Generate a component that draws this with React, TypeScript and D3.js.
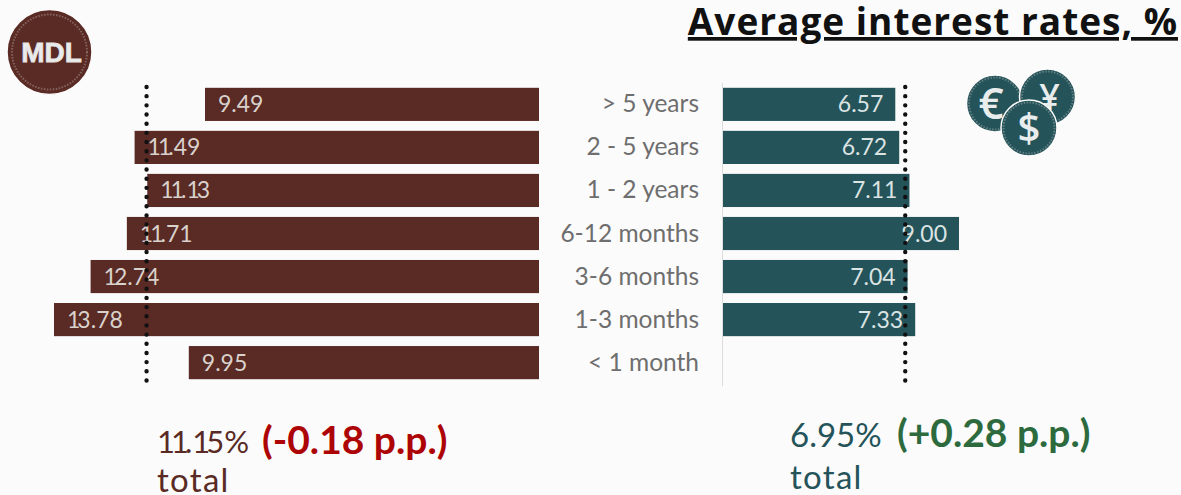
import { type FC, useEffect, useRef } from 'react';
import * as d3 from 'd3';

const categories = ['> 5 years', '2 - 5 years', '1 - 2 years', '6-12 months', '3-6 months', '1-3 months', '< 1 month'];
const mdlValues = [9.49, 11.49, 11.13, 11.71, 12.74, 13.78, 9.95];
const fxValues: (number | null)[] = [6.57, 6.72, 7.11, 9.0, 7.04, 7.33, null];
const mdlTotal = 11.15;
const fxTotal = 6.95;

const width = 1181;
const height = 495;
const bodyFont = 'Lato, "Noto Sans", sans-serif';
const brown = '#5a2a24';
const teal = '#24535a';

// the original face has a narrow "1", pull the following glyph back
const tightOnes = (s: string, k: number) =>
  s
    .split('')
    .map((_, i) => (i > 0 && s[i - 1] === '1' ? -k : 0))
    .join(' ');

const App: FC = () => {
  const ref = useRef<SVGSVGElement>(null);

  useEffect(() => {
    if (!ref.current) return;
    const svg = d3.select(ref.current);
    svg.selectAll('*').remove();
    svg.append('rect').attr('width', width).attr('height', height).attr('fill', '#fbfbfb');

    const y = d3.scaleBand<string>().domain(categories).range([83.5, 383.5]).paddingInner(0.23).paddingOuter(0.1);
    const xLeft = d3.scaleLinear().domain([0, 13.78]).range([539, 54]);
    const xRight = d3.scaleLinear().domain([0, 9]).range([723, 959]);
    const rows = categories.map((c, i) => ({ c, left: mdlValues[i], right: fxValues[i] }));

    // left bars
    const left = svg.append('g');
    left
      .selectAll('rect')
      .data(rows)
      .join('rect')
      .attr('x', (d) => xLeft(d.left))
      .attr('y', (d) => y(d.c)!)
      .attr('width', (d) => xLeft(0) - xLeft(d.left))
      .attr('height', y.bandwidth())
      .attr('fill', brown);

    // right bars
    const rightRows = rows.filter((d) => d.right !== null);
    const right = svg.append('g');
    right
      .selectAll('rect')
      .data(rightRows)
      .join('rect')
      .attr('x', xRight(0))
      .attr('y', (d) => y(d.c)!)
      .attr('width', (d) => xRight(d.right!) - xRight(0))
      .attr('height', y.bandwidth())
      .attr('fill', teal);

    svg
      .append('line')
      .attr('x1', xRight(0) - 0.5)
      .attr('x2', xRight(0) - 0.5)
      .attr('y1', 83)
      .attr('y2', 386)
      .attr('stroke', '#dcdcdc');

    // dotted average lines
    [xLeft(mdlTotal), xRight(fxTotal)].forEach((x) => {
      svg
        .append('line')
        .attr('x1', x)
        .attr('x2', x)
        .attr('y1', 87)
        .attr('y2', 384)
        .attr('stroke', '#111')
        .attr('stroke-width', 4.4)
        .attr('stroke-linecap', 'round')
        .attr('stroke-dasharray', '0 9.17');
    });

    // value labels
    left
      .selectAll('text')
      .data(rows)
      .join('text')
      .attr('x', (d) => xLeft(d.left) + 13)
      .attr('dx', (d) => tightOnes(d.left.toFixed(2), 3))
      .attr('y', (d) => y(d.c)! + y.bandwidth() / 2 + 8)
      .attr('font-family', bodyFont)
      .attr('font-size', 23)
      .attr('fill', '#d9d2cc')
      .text((d) => d.left.toFixed(2));
    right
      .selectAll('text')
      .data(rightRows)
      .join('text')
      .attr('x', (d) => xRight(d.right!) - 12)
      .attr('y', (d) => y(d.c)! + y.bandwidth() / 2 + 8)
      .attr('text-anchor', 'end')
      .attr('font-family', bodyFont)
      .attr('font-size', 23)
      .attr('fill', '#dbe3e3')
      .text((d) => d.right!.toFixed(2));

    // category labels
    svg
      .append('g')
      .selectAll('text')
      .data(categories)
      .join('text')
      .attr('x', 699)
      .attr('y', (d) => y(d)! + y.bandwidth() / 2 + 8)
      .attr('text-anchor', 'end')
      .attr('font-family', bodyFont)
      .attr('font-size', 24.5)
      .attr('fill', '#6e6e6e')
      .text((d) => d);

    // title
    svg
      .append('text')
      .attr('x', 1178)
      .attr('y', 35)
      .attr('text-anchor', 'end')
      .attr('font-family', '"Open Sans", sans-serif')
      .attr('font-weight', 700)
      .attr('font-size', 37)
      .attr('letter-spacing', 1)
      .attr('text-decoration', 'underline')
      .attr('fill', '#111')
      .text('Average interest rates, %');

    // totals
    const totals = [
      { x: 157, y: 453, y2: 492, xd: 262, yd: 454, size: 31, value: mdlTotal, delta: '(-0.18 p.p.)', color: brown, dc: '#ad0505' },
      { x: 790, y: 447, y2: 489, xd: 897, yd: 447, size: 33, value: fxTotal, delta: '(+0.28 p.p.)', color: teal, dc: '#2d6b3f' },
    ];
    totals.forEach((t) => {
      const g = svg.append('g').attr('font-family', bodyFont);
      const label = `${t.value.toFixed(2)}%`;
      g.append('text')
        .attr('x', t.x)
        .attr('y', t.y)
        .attr('dx', tightOnes(label, 4))
        .attr('font-size', t.size)
        .attr('fill', t.color)
        .text(label);
      g.append('text').attr('x', t.xd).attr('y', t.yd).attr('font-size', 39).attr('font-weight', 700).attr('fill', t.dc).text(t.delta);
      g.append('text')
        .attr('x', t.x)
        .attr('y', t.y2)
        .attr('font-size', 33)
        .attr('letter-spacing', 1.3)
        .attr('fill', t.color)
        .text('total');
    });

    // coin badges
    const coin = (cx: number, cy: number, r: number, fill: string, label: string, size: number, dx: number, ring: number) => {
      const g = svg.append('g');
      g.append('circle').attr('cx', cx).attr('cy', cy).attr('r', r).attr('fill', fill).attr('stroke', '#fbfbfb').attr('stroke-width', 1.5);
      g.append('circle')
        .attr('cx', cx)
        .attr('cy', cy)
        .attr('r', r - ring)
        .attr('fill', 'none')
        .attr('stroke', '#d8d2cc')
        .attr('stroke-opacity', 0.35)
        .attr('stroke-width', 2)
        .attr('stroke-dasharray', '1.5 1.5');
      g.append('text')
        .attr('x', cx + dx)
        .attr('y', cy + size * 0.36)
        .attr('text-anchor', 'middle')
        .attr('font-family', label === 'MDL' ? '"Liberation Sans", sans-serif' : '"Open Sans", sans-serif')
        .attr('font-weight', label === 'MDL' ? 700 : 600)
        .attr('font-size', size)
        .attr('stroke', label === 'MDL' ? '#e8e4e0' : 'none')
        .attr('stroke-width', 0.8)
        .attr('fill', '#e8ecec')
        .text(label);
    };
    coin(49.5, 52, 42.5, brown, 'MDL', 28, 2, 5);
    coin(995, 103.5, 28.5, teal, '€', 44, -4, 2.5);
    coin(1047.5, 97, 28, teal, '¥', 36, 2, 2.5);
    coin(1029, 128, 28, teal, '$', 40, 0, 2.5);
  }, []);

  return (
    <svg
      ref={ref}
      width={width}
      height={height}
      style={{ position: 'absolute', left: 0, top: 0, display: 'block' }}
    />
  );
};

export default App;
